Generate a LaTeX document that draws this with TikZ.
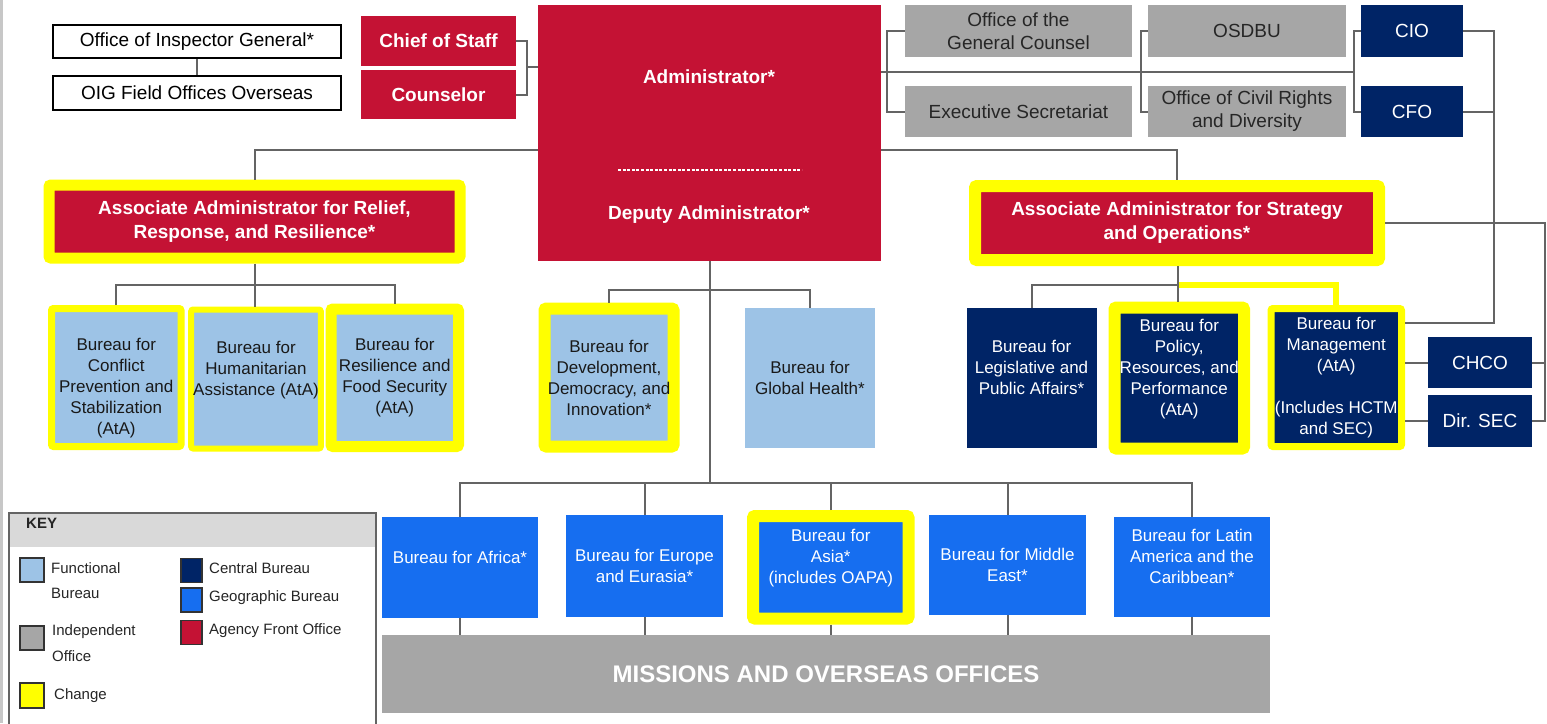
\documentclass[tikz,border=0pt]{standalone}
\usepackage{fontspec}
\setmainfont{Liberation Sans}
\definecolor{afo}{RGB}{196,18,52}
\definecolor{func}{RGB}{157,195,230}
\definecolor{cent}{RGB}{0,36,102}
\definecolor{geo}{RGB}{22,110,240}
\definecolor{indep}{RGB}{166,166,166}
\definecolor{chg}{RGB}{255,255,0}
\definecolor{conn}{RGB}{100,100,100}
\definecolor{keyhead}{RGB}{217,217,217}
\tikzset{
  sz/.style 2 args={minimum width=#1pt, minimum height=#2pt},
  box/.style={rectangle, inner sep=2pt, align=center},
  oigbox/.style={box, draw=black, line width=1.5pt, fill=white, text=black, font=\fontsize{19}{23}\selectfont},
  redbox/.style={box, fill=afo, text=white, font=\fontsize{19}{24}\selectfont\bfseries},
  redtext/.style={inner sep=0pt, text=white, font=\fontsize{19}{23}\selectfont\bfseries},
  greybox/.style={box, fill=indep, text=black!85, font=\fontsize{19}{23}\selectfont},
  navybox/.style={box, fill=cent, text=white, font=\fontsize{19}{23}\selectfont},
  navysmall/.style={box, fill=cent, text=white, font=\fontsize{17}{21}\selectfont},
  funcbox/.style={box, fill=func, text=black!90, font=\fontsize{17}{21}\selectfont},
  geobox/.style={box, fill=geo, text=white, font=\fontsize{17}{21}\selectfont},
  missbox/.style={box, fill=indep, text=white, font=\fontsize{24}{28}\selectfont\bfseries},
  chgframe/.style={draw=chg, line width=#1pt, rounded corners=2pt},
  cn/.style={draw=conn, line width=2pt},
  chgline/.style={draw=chg, line width=6pt},
  swatch/.style={rectangle, draw=black!80, line width=1.5pt, inner sep=0pt},
  keytext/.style={inner sep=0pt, anchor=west, text=black!85, font=\fontsize{15}{18}\selectfont},
}
\begin{document}
\begin{tikzpicture}[x=1pt,y=-1pt]
\useasboundingbox (0,0) rectangle (1547,723);
\fill[white] (0,0) rectangle (1547,723);
\fill[black!22] (0,0) rectangle (3,723);

% ---- top row ----
\node[oigbox, sz={288}{33}] (oig) at (197,41.5) {Office of Inspector General*};
\node[oigbox, sz={288}{34}] (oigf) at (197,93) {OIG Field Offices Overseas};
\node[redbox, sz={155}{50}] (cos) at (438.5,41) {Chief of Staff};
\node[redbox, sz={155}{49}] (couns) at (438.5,94.5) {Counselor};
\node[box, fill=afo, sz={343}{256}] (admin) at (709.5,133) {};
\node[redtext] (admt) at (709,77) {Administrator*};
\node[redtext] (dept) at (709,215) {Deputy Administrator*};
\draw[white, line width=2.2pt, dash pattern=on 3pt off 1.6pt] (618,170) -- (802,170);

\node[greybox, sz={227}{52}] (ogc) at (1018.5,31) {Office of the\\General Counsel};
\node[greybox, sz={227}{51}] (es) at (1018.5,111.5) {Executive Secretariat};
\node[greybox, sz={198}{52}] (osdbu) at (1247,31) {OSDBU};
\node[greybox, sz={198}{51}] (ocrd) at (1247,111.5) {Office of Civil Rights\\and Diversity};
\node[navybox, sz={102}{52}] (cio) at (1412,31) {CIO};
\node[navybox, sz={102}{51}] (cfo) at (1412,111.5) {CFO};

% ---- associate administrators ----
\node[redbox, chgframe=11, sz={411}{73}] (aarr) at (254.5,221.5) {Associate Administrator for Relief,\\Response, and Resilience*};
\node[redbox, chgframe=12, sz={404}{74}] (aaso) at (1177,223) {Associate Administrator for Strategy\\and Operations*};

% ---- bureaus ----
\node[funcbox, chgframe=7, sz={129.5}{138}] (cps) at (116.25,377.5) {\phantom{X}\\Bureau for\\Conflict\\Prevention and\\Stabilization\\(AtA)};
\node[funcbox, chgframe=6, sz={126}{139}] (ha) at (256,379) {Bureau for\\Humanitarian\\Assistance (AtA)\\\phantom{X}};
\node[funcbox, chgframe=11, sz={127.5}{137.5}] (rfs) at (394.75,377.75) {Bureau for\\Resilience and\\Food Security\\(AtA)};
\node[funcbox, chgframe=12, sz={129}{138}] (ddi) at (609,377.5) {Bureau for\\Development,\\Democracy, and\\Innovation*};
\node[funcbox, sz={130}{140}] (gh) at (810,378) {Bureau for\\Global Health*};
\node[navysmall, sz={130}{140}] (lpa) at (1031.5,378) {Bureau for\\Legislative and\\Public Affairs*\\\phantom{X}};
\node[navysmall, chgframe=12, sz={129.5}{141}] (prp) at (1179.25,378) {Bureau for\\Policy,\\Resources, and\\Performance\\(AtA)\\\phantom{X}};
\node[navysmall, chgframe=7, sz={130.5}{138}] (mgmt) at (1336.25,377.5) {Bureau for\\Management\\(AtA)\\[21pt](Includes HCTM\\and SEC)};
\node[navybox, sz={104}{51}] (chco) at (1480,362.5) {CHCO};
\node[navybox, sz={104}{52}] (dsec) at (1480,421) {Dir. SEC};

% ---- geographic ----
\node[geobox, sz={156}{101}] (africa) at (460,567.5) {Bureau for Africa*\\\phantom{X}};
\node[geobox, sz={157}{102}] (europe) at (644.5,566) {Bureau for Europe\\and Eurasia*};
\node[geobox, chgframe=12, sz={155.5}{102.5}] (asia) at (830.75,567.25) {Bureau for\\Asia*\\(includes OAPA)\\\phantom{X}};
\node[geobox, sz={157}{100}] (me) at (1007.5,565) {Bureau for Middle\\East*};
\node[geobox, sz={156}{100}] (lac) at (1192,567) {Bureau for Latin\\America and the\\Caribbean*\\\phantom{X}};
\node[missbox, sz={888}{78}] (miss) at (826,674) {MISSIONS AND OVERSEAS OFFICES};

% ---- junction coordinates ----
\coordinate (jc) at (527,67);
\coordinate (j1) at (887,72);
\coordinate (j2) at (1141,72);
\coordinate (j3) at (1354,72);
\coordinate (j4) at (1494,323);
\coordinate (ja) at (255,150);
\coordinate (jr) at (255,285);
\coordinate (jd) at (710,290);
\coordinate (js) at (1178,285);
\coordinate (jg) at (710,483);
\coordinate (je) at (1545,223);

% ---- connectors ----
\draw[cn] (oig.south) -- (oigf.north);
\draw[cn] (cos.east) -| (jc) |- (couns.east);
\draw[cn] (jc) -- (admin.west |- jc);
\draw[cn] (admin.east |- j1) -- (j3);
\draw[cn] (ogc.west) -| (j1) |- (es.west);
\draw[cn] (osdbu.west) -| (j2) |- (ocrd.west);
\draw[cn] (cio.west) -| (j3) |- (cfo.west);
\draw[cn] (cio.east) -| (j4) -- (mgmt.east |- j4);
\draw[cn] (cfo.east) -- (cfo.east -| j4);

\draw[cn] (admin.west |- ja) -| (aarr.north);
\draw[cn] (admin.east |- ja) -| (aaso.north);

\draw[cn] (aarr.south) -- (aarr.south |- ha.north);
\draw[cn] (cps.north) |- (rfs.north |- jr) -- (rfs.north);

\draw[cn] (ddi.north) |- (gh.north |- jd) -- (gh.north);
\draw[cn] (admin.south -| jg) -- (jg);

\draw[chgline] (js) -| (mgmt.north);
\draw[cn] (aaso.south -| js) -- (prp.north -| js);
\draw[cn] (lpa.north) |- (js);

\draw[cn] (mgmt.east |- chco.west) -- (chco.west);
\draw[cn] (mgmt.east |- dsec.west) -- (dsec.west);
\draw[cn] (aaso.east |- je) -- (je) |- (dsec.east);
\draw[cn] (chco.east) -- (chco.east -| je);

\draw[cn] (africa.north) |- (lac.north |- jg) -- (lac.north);
\foreach \n in {europe,asia,me} { \draw[cn] (\n.north) -- (\n.north |- jg); }
\foreach \n in {africa,europe,asia,me,lac} { \draw[cn] (\n.south) -- (\n.south |- miss.north); }

% ---- key ----
\fill[keyhead] (9,513) rectangle (376,547);
\draw[draw=conn, line width=1.5pt] (9,725) -- (9,513) -- (376,513) -- (376,725);
\node[keytext, font=\fontsize{15}{18}\selectfont\bfseries] (keyt) at (26,523) {KEY};
\node[swatch, fill=func, sz={24}{24}] (sw1) at (32,570) {};
\node[keytext] (kt1a) at (51,568) {Functional};
\node[keytext] (kt1b) at (51,593) {Bureau};
\node[swatch, fill=indep, sz={24}{24}] (sw2) at (32,638) {};
\node[keytext] (kt2a) at (52,632) {Independent};
\node[keytext] (kt2b) at (52,656) {Office};
\node[swatch, fill=chg, sz={24}{25}] (sw3) at (32,695.5) {};
\node[keytext] (kt3) at (54,696) {Change};
\node[swatch, fill=cent, sz={21}{24}] (sw4) at (191.5,570.5) {};
\node[keytext] (kt4) at (209,568) {Central Bureau};
\node[swatch, fill=geo, sz={21}{24}] (sw5) at (191.5,600) {};
\node[keytext] (kt5) at (209,598) {Geographic Bureau};
\node[swatch, fill=afo, sz={21}{24}] (sw6) at (191.5,632.5) {};
\node[keytext] (kt6) at (209,631) {Agency Front Office};
\end{tikzpicture}
\end{document}
